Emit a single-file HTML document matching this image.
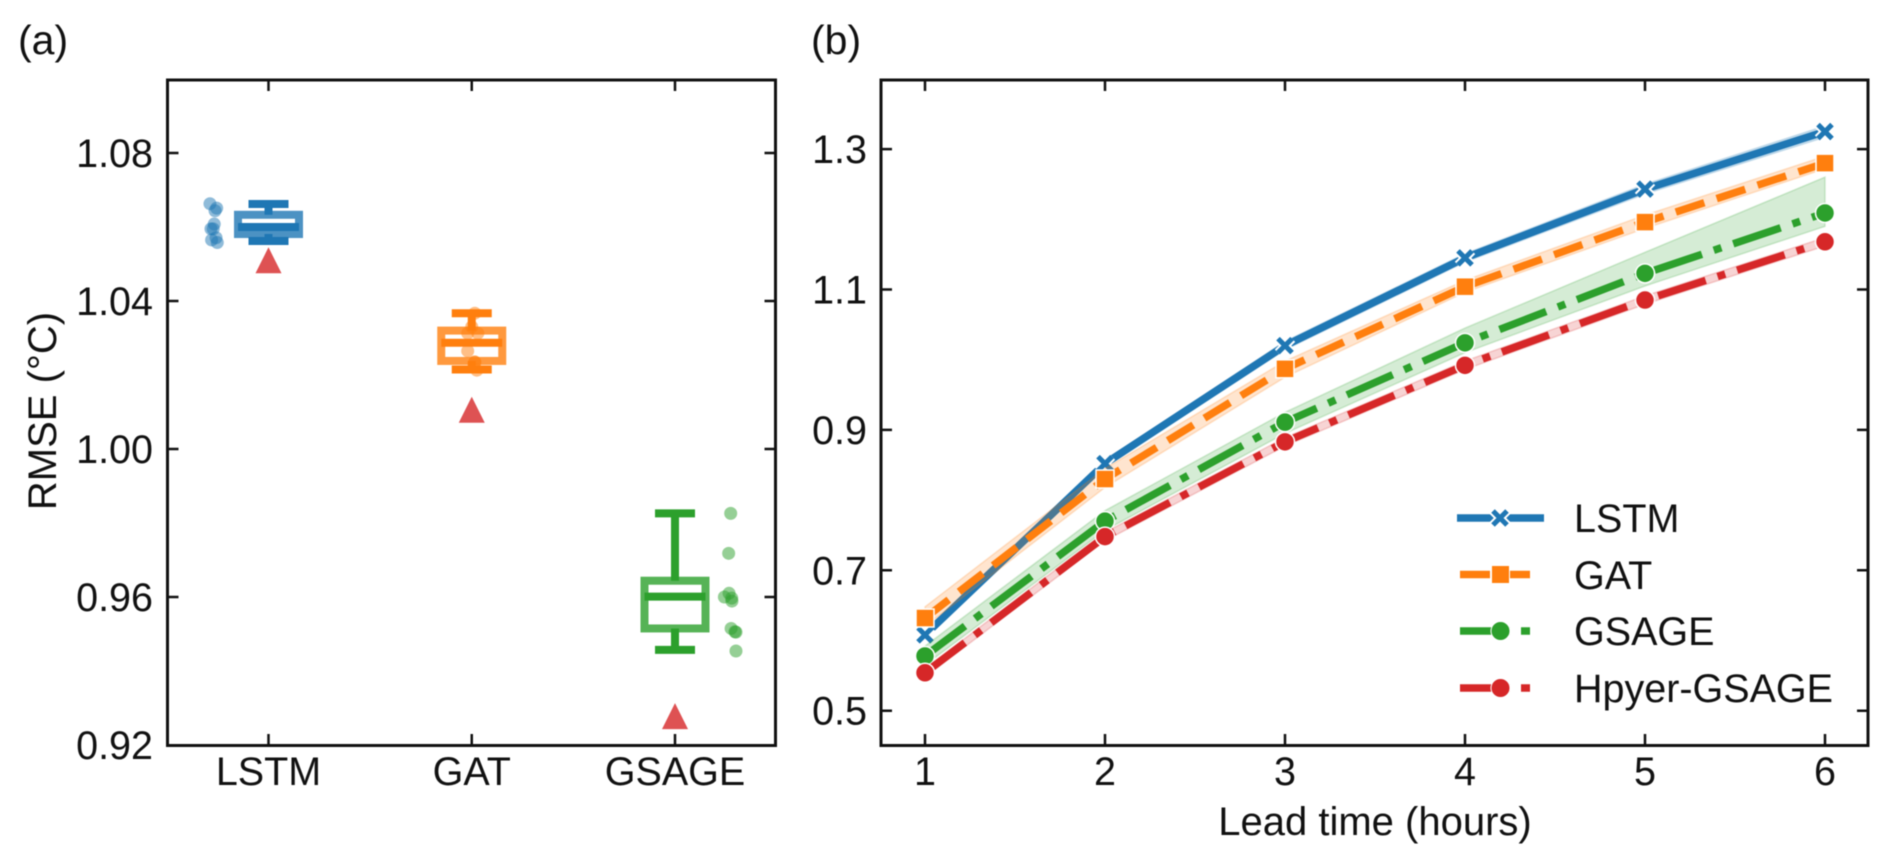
<!DOCTYPE html>
<html>
<head>
<meta charset="utf-8">
<title>RMSE comparison and lead time chart</title>
<style>
html,body{margin:0;padding:0;background:#fff;width:1892px;height:864px;overflow:hidden}
svg{display:block;filter:blur(0.5px)}
text{font-family:"Liberation Sans",sans-serif;font-size:39.5px;fill:#111}
</style>
</head>
<body>
<svg id="chart" width="1892" height="864" viewBox="0 0 1892 864" xmlns="http://www.w3.org/2000/svg">
  <rect x="0" y="0" width="1892" height="864" fill="#fff"/>
  <text x="18" y="54" style="font-size:41px">(a)</text>
  <text x="811" y="54" style="font-size:41px">(b)</text>
  <text transform="translate(56,411) rotate(-90)" text-anchor="middle" style="font-size:40px">RMSE (°C)</text>
  <text x="1375" y="835" text-anchor="middle" style="font-size:40px">Lead time (hours)</text>
  <g id="panelA"></g>
  <g id="panelB"></g>
  <rect x="167.5" y="80" width="608" height="665.5" fill="none" stroke="#111" stroke-width="3"/>
  <rect x="881" y="80" width="987" height="665.5" fill="none" stroke="#111" stroke-width="3"/>
  <g id="legend">
    <g>
      <line x1="1457" y1="518" x2="1544" y2="518" stroke="#1f77b4" stroke-width="7.5"/>
      <path d="M1493 511L1507 525M1507 511L1493 525" stroke="#fff" stroke-width="9" fill="none"/>
      <path d="M1493 511L1507 525M1507 511L1493 525" stroke="#1f77b4" stroke-width="5" fill="none"/>
      <text x="1574" y="532">LSTM</text>
    </g>
    <g>
      <line x1="1460" y1="574.5" x2="1530" y2="574.5" stroke="#ff7f0e" stroke-width="7.5" stroke-dasharray="30 13"/>
      <rect x="1491.5" y="565.5" width="18" height="18" fill="#ff7f0e" stroke="#fff" stroke-width="1"/>
      <text x="1574" y="589">GAT</text>
    </g>
    <g>
      <line x1="1460" y1="631" x2="1530" y2="631" stroke="#2ca02c" stroke-width="7.5" stroke-dasharray="50 11 9 12"/>
      <circle cx="1500.5" cy="631" r="9.5" fill="#2ca02c" stroke="#fff" stroke-width="1"/>
      <text x="1574" y="645">GSAGE</text>
    </g>
    <g>
      <line x1="1460" y1="688" x2="1530" y2="688" stroke="#d62728" stroke-width="7.5" stroke-dasharray="50 11 9 12"/>
      <circle cx="1500.5" cy="688" r="9.5" fill="#d62728" stroke="#fff" stroke-width="1"/>
      <text x="1574" y="702">Hpyer-GSAGE</text>
    </g>
  </g>
</svg>
<script>
/* Panel (a) data */
const modelNames = ['LSTM', 'GAT', 'GSAGE'];
const boxLow = [1.0562, 1.0215, 0.9457];
const boxQ1 = [1.0581, 1.0238, 0.9515];
const boxMedian = [1.0600, 1.0287, 0.9601];
const boxQ3 = [1.0633, 1.0320, 0.9644];
const boxHigh = [1.0662, 1.0367, 0.9826];
const hyperRef = [1.0510, 1.0106, 0.9278];
const lstmRuns = [1.0663, 1.0651, 1.0644, 1.0608, 1.0595, 1.0595, 1.0571, 1.0565, 1.0558];
const gatRuns = [1.0367, 1.0330, 1.0313, 1.0313, 1.0265, 1.0235, 1.0235, 1.0213];
const gsageRuns = [0.9826, 0.9718, 0.9610, 0.9600, 0.9597, 0.9589, 0.9515, 0.9506, 0.9505, 0.9454];
const lstmJitter = [-0.288, -0.255, -0.263, -0.267, -0.272, -0.283, -0.258, -0.280, -0.252];
const gatJitter = [0.015, 0, 0.03, -0.02, -0.02, 0.015, 0.015, 0.025];
const gsageJitter = [0.274, 0.264, 0.266, 0.243, 0.279, 0.280, 0.276, 0.295, 0.300, 0.300];
const ticksA = [0.92, 0.96, 1.00, 1.04, 1.08];

/* Panel (b) data */
const leadHours = [1, 2, 3, 4, 5, 6];
const lstmMean = [0.608, 0.852, 1.020, 1.145, 1.243, 1.325];
const lstmUpper = [0.613, 0.857, 1.026, 1.151, 1.250, 1.333];
const lstmLower = [0.603, 0.847, 1.014, 1.139, 1.236, 1.317];
const gatMean = [0.632, 0.830, 0.987, 1.104, 1.196, 1.280];
const gatUpper = [0.648, 0.845, 0.998, 1.113, 1.206, 1.290];
const gatLower = [0.620, 0.818, 0.975, 1.096, 1.187, 1.272];
const gsageMean = [0.578, 0.770, 0.911, 1.024, 1.123, 1.209];
const gsageUpper = [0.592, 0.785, 0.925, 1.045, 1.153, 1.260];
const gsageLower = [0.565, 0.757, 0.895, 1.010, 1.105, 1.190];
const hyperMean = [0.554, 0.748, 0.883, 0.992, 1.085, 1.168];
const hyperUpper = [0.560, 0.754, 0.889, 0.998, 1.091, 1.174];
const hyperLower = [0.548, 0.742, 0.877, 0.986, 1.079, 1.162];
const ticksBY = [0.5, 0.7, 0.9, 1.1, 1.3];

const NS = 'http://www.w3.org/2000/svg';
const BLUE = '#1f77b4', ORANGE = '#ff7f0e', GREEN = '#2ca02c', RED = '#d62728';

function xA(i) { return 268.5 + 203.25 * i; }
function yA(v) { return 745 - (v - 0.92) * 3700; }
function xB(h) { return 925 + 180 * (h - 1); }
function yB(v) { return 710.7 - (v - 0.5) * 702; }

function mk(parent, tag, attrs) {
  const el = document.createElementNS(NS, tag);
  for (const k in attrs) el.setAttribute(k, attrs[k]);
  parent.appendChild(el);
  return el;
}

const panelA = document.getElementById('panelA');
const panelB = document.getElementById('panelB');

/* Axis ticks, panel a */
ticksA.forEach(function (v) {
  const y = yA(v);
  if (v > 0.92) {
    const l = mk(panelA, 'path', { d: 'M167.5 ' + y + 'H178.5M775.5 ' + y + 'H764.5', stroke: '#111', 'stroke-width': 2.5, fill: 'none' });
    
    
  }
  const t = mk(panelA, 'text', { x: 153, y: y + 14, 'text-anchor': 'end' });
  t.textContent = v.toFixed(2);
  
  
});
modelNames.forEach(function (name, i) {
  const x = xA(i);
  const l = mk(panelA, 'path', { d: 'M' + x + ' 745V734M' + x + ' 80V91', stroke: '#111', 'stroke-width': 2.5, fill: 'none' });
  
  
  const t = mk(panelA, 'text', { x: x, y: 785, 'text-anchor': 'middle' });
  t.textContent = name;
  
  
});

/* Run points */
function drawRuns(idx, color, values, jitter) {
  values.forEach(function (v, j) {
    const c = mk(panelA, 'circle', { cx: xA(idx + jitter[j]), cy: yA(v), r: 6.5, fill: color, 'fill-opacity': 0.5 });
    
    
  });
}
drawRuns(0, BLUE, lstmRuns, lstmJitter);
drawRuns(1, ORANGE, gatRuns, gatJitter);
drawRuns(2, GREEN, gsageRuns, gsageJitter);

/* Box plots */
const boxColors = [BLUE, ORANGE, GREEN];
modelNames.forEach(function (name, i) {
  const x = xA(i), col = boxColors[i];
  const g = mk(panelA, 'g', {});
  
  
  const whisk = mk(g, 'path', {
    d: 'M' + x + ' ' + yA(boxQ3[i]) + 'V' + yA(boxHigh[i]) + 'M' + (x - 20) + ' ' + yA(boxHigh[i]) + 'H' + (x + 20) +
       'M' + x + ' ' + yA(boxQ1[i]) + 'V' + yA(boxLow[i]) + 'M' + (x - 20) + ' ' + yA(boxLow[i]) + 'H' + (x + 20),
    stroke: col, 'stroke-width': 8, fill: 'none'
  });
  
  
  const box = mk(g, 'rect', {
    x: x - 30.5, y: yA(boxQ3[i]), width: 61, height: yA(boxQ1[i]) - yA(boxQ3[i]),
    fill: 'none', stroke: col, 'stroke-width': 8, 'stroke-opacity': 0.8
  });
  
  
  const med = mk(g, 'line', { x1: x - 30.5, x2: x + 30.5, y1: yA(boxMedian[i]), y2: yA(boxMedian[i]), stroke: col, 'stroke-width': 8 });
  
  
  const cy = yA(hyperRef[i]);
  const tri = mk(g, 'path', { d: 'M' + x + ' ' + (cy - 13) + 'L' + (x + 13) + ' ' + (cy + 13) + 'L' + (x - 13) + ' ' + (cy + 13) + 'Z', fill: RED, 'fill-opacity': 0.8 });
  
  
});

/* Axis ticks, panel b */
ticksBY.forEach(function (v) {
  const y = yB(v);
  const l = mk(panelB, 'path', { d: 'M881 ' + y + 'H892M1868 ' + y + 'H1857', stroke: '#111', 'stroke-width': 2.5, fill: 'none' });
  
  
  const t = mk(panelB, 'text', { x: 867, y: y + 14, 'text-anchor': 'end' });
  t.textContent = v.toFixed(1);
  
  
});
leadHours.forEach(function (h) {
  const x = xB(h);
  const l = mk(panelB, 'path', { d: 'M' + x + ' 745V734M' + x + ' 80V91', stroke: '#111', 'stroke-width': 2.5, fill: 'none' });
  
  
  const t = mk(panelB, 'text', { x: x, y: 785, 'text-anchor': 'middle' });
  t.textContent = String(h);
  
  
});

/* Series */
function pts(values) {
  return values.map(function (v, i) { return xB(leadHours[i]) + ',' + yB(v); });
}
function drawSeries(color, mean, upper, lower, dash, marker) {
  const band = mk(panelB, 'polygon', {
    points: pts(upper).concat(pts(lower).reverse()).join(' '),
    fill: color, 'fill-opacity': 0.2, stroke: color, 'stroke-opacity': 0.2, 'stroke-width': 1.5
  });
  
  
  const attrs = { points: pts(mean).join(' '), fill: 'none', stroke: color, 'stroke-width': 7.5 };
  if (dash) attrs['stroke-dasharray'] = dash;
  const line = mk(panelB, 'polyline', attrs);
  
  
  mean.forEach(function (v, i) {
    const x = xB(leadHours[i]), y = yB(v);
    let m;
    if (marker === 'x') {
      const d = 'M' + (x - 7) + ' ' + (y - 7) + 'L' + (x + 7) + ' ' + (y + 7) + 'M' + (x + 7) + ' ' + (y - 7) + 'L' + (x - 7) + ' ' + (y + 7);
      mk(panelB, 'path', { d: d, stroke: '#fff', 'stroke-width': 9, fill: 'none' });
      m = mk(panelB, 'path', { d: d, stroke: color, 'stroke-width': 5, fill: 'none' });
    } else if (marker === 'square') {
      m = mk(panelB, 'rect', { x: x - 9, y: y - 9, width: 18, height: 18, fill: color, stroke: '#fff', 'stroke-width': 1.5 });
    } else {
      m = mk(panelB, 'circle', { cx: x, cy: y, r: 9.5, fill: color, stroke: '#fff', 'stroke-width': 1.5 });
    }
    
    
  });
}
drawSeries(BLUE, lstmMean, lstmUpper, lstmLower, '', 'x');
drawSeries(ORANGE, gatMean, gatUpper, gatLower, '30 13', 'square');
drawSeries(GREEN, gsageMean, gsageUpper, gsageLower, '50 12.5 8 12.5', 'circle');
drawSeries(RED, hyperMean, hyperUpper, hyperLower, '50 12.5 8 12.5', 'circle');
</script>
</body>
</html>
